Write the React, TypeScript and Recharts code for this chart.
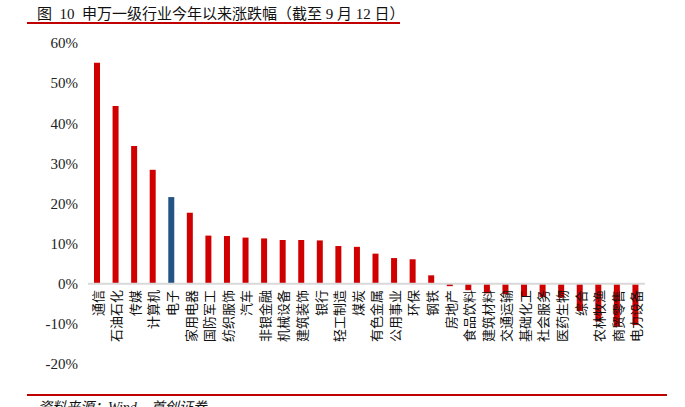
import { BarChart, Bar, XAxis, YAxis, ReferenceLine, Cell } from 'recharts';

// 申万一级行业，今年以来涨跌幅 (%)
const industries = [
    '通信', '石油石化', '传媒', '计算机', '电子', '家用电器', '国防军工', '纺织服饰',
    '汽车', '非银金融', '机械设备', '建筑装饰', '银行', '轻工制造', '煤炭', '有色金属',
    '公用事业', '环保', '钢铁', '房地产', '食品饮料', '建筑材料', '交通运输', '基础化工',
    '社会服务', '医药生物', '综合', '农林牧渔', '商贸零售', '电力设备',
];
const changes = [
    55.1, 44.3, 34.3, 28.4, 21.6, 17.7, 12.0, 11.9,
    11.5, 11.3, 10.9, 10.9, 10.8, 9.4, 9.2, 7.5,
    6.4, 6.1, 2.1, -0.6, -1.6, -2.4, -2.6, -3.2,
    -3.3, -3.5, -6.8, -9.4, -10.7, -10.3,
];
const highlight = '电子';
const yTicks = [-20, -10, 0, 10, 20, 30, 40, 50, 60];

const data = industries.map((name, i) => ({ name, value: changes[i] }));

const RED = '#d00000';
const BLUE = '#245486';
const serif = "'Liberation Serif', 'Times New Roman', serif";
const cjk = "'Noto Sans CJK SC', sans-serif";

// 标签放在 0 轴下方 (与原图一致)
const ZeroTick = (props: any) => {
    const { x, y, payload } = props;
    return (
        <text
            x={x}
            y={y - 82}
            transform={`rotate(-90, ${x}, ${y - 82})`}
            textAnchor="end"
            dominantBaseline="central"
            fontFamily={cjk}
            fontSize={13}
            fill="#111"
        >
            {payload.value}
        </text>
    );
};

export default function App() {
    return (
        <div style={{ position: 'absolute', left: 0, top: 0, width: 685, height: 407, background: '#fff', overflow: 'hidden' }}>
            <div style={{ position: 'absolute', left: 37, top: 2, fontFamily: `'Liberation Serif', ${cjk}`, fontSize: 15, color: '#111', whiteSpace: 'pre' }}>
                {'图  10  申万一级行业今年以来涨跌幅（截至 9 月 12 日）'}
            </div>
            <div style={{ position: 'absolute', left: 27, top: 22, width: 373, height: 2, background: '#c00000' }} />

            <BarChart
                width={685}
                height={407}
                data={data}
                margin={{ top: 43, right: 40, left: 0, bottom: 0 }}
                barCategoryGap={0}
            >
                <XAxis
                    dataKey="name"
                    axisLine={false}
                    tickLine={false}
                    interval={0}
                    height={43}
                    tick={<ZeroTick />}
                />
                <YAxis
                    domain={[-20, 60]}
                    ticks={yTicks}
                    axisLine={false}
                    tickLine={false}
                    width={88}
                    tickMargin={4}
                    tickFormatter={(v) => `${v}%`}
                    tick={{ fill: '#222', fontSize: 15, fontFamily: serif }}
                />
                <ReferenceLine y={0} stroke="#d9d9d9" strokeWidth={2} />
                <Bar dataKey="value" barSize={6} isAnimationActive={false}>
                    {data.map((d) => (
                        <Cell key={d.name} fill={d.name === highlight ? BLUE : RED} />
                    ))}
                </Bar>
            </BarChart>

            <div style={{ position: 'absolute', left: 27, top: 394, width: 640, height: 2, background: '#c00000' }} />
            <div style={{ position: 'absolute', left: 38, top: 396, fontFamily: `'Liberation Serif', ${cjk}`, fontStyle: 'italic', fontSize: 14, color: '#111', whiteSpace: 'nowrap' }}>
                资料来源：Wind，首创证券
            </div>
        </div>
    );
}
